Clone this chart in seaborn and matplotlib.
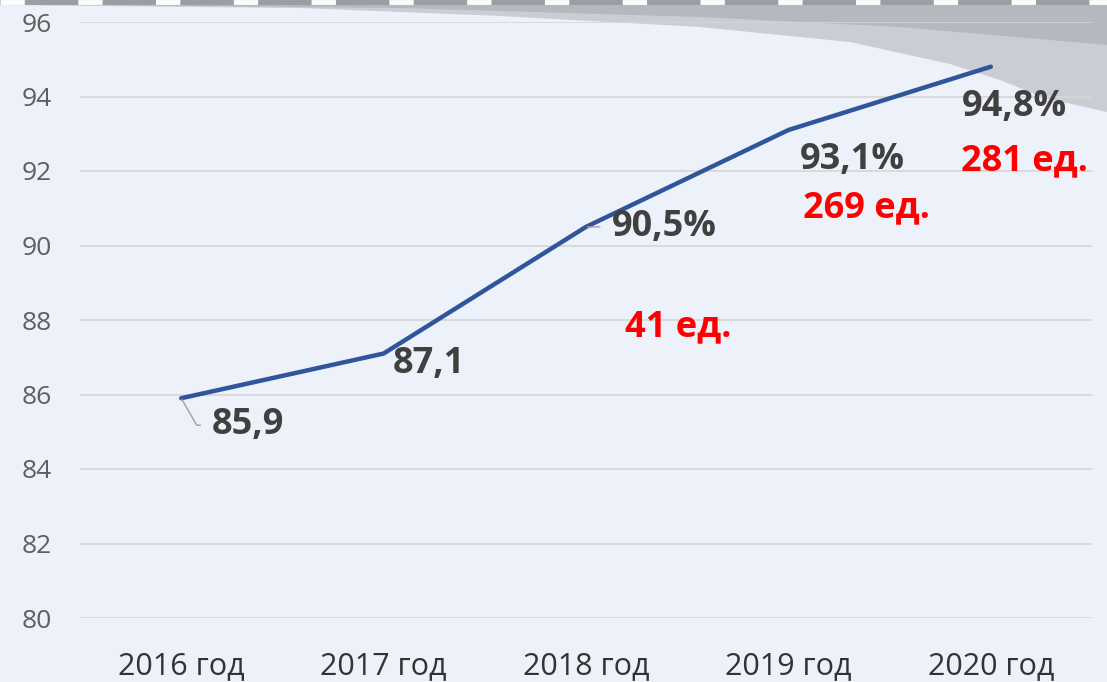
import numpy as np
import pandas as pd
import seaborn as sns
from matplotlib import pyplot as plt
from matplotlib.patches import Polygon
from matplotlib.lines import Line2D

years = ["2016 год", "2017 год", "2018 год", "2019 год", "2020 год"]
share = [85.9, 87.1, 90.5, 93.1, 94.8]
share_labels = ["85,9", "87,1", "90,5%", "93,1%", "94,8%"]
units_labels = [None, None, "41 ед.", "269 ед.", "281 ед."]

# label offsets from the point, in pixels (x right, y up)
share_offsets = [(67, -27), (45, -10), (78, 0), (64, -30), (24, -40)]
units_offsets = [None, None, (92, -100), (78, -78), (34, -95)]

if __name__ == "__main__":
    sns.set_theme(style="white")
    plt.rcParams["font.family"] = ["Open Sans", "DejaVu Sans"]

    W, H = 1107, 682
    fig = plt.figure(figsize=(W / 100, H / 100), dpi=100, facecolor="#EDF1F9")

    # grey swoosh at the top right (background decoration)
    def fpt(x, y):
        return (x / W, 1 - y / H)

    outer = [(0, 0), (1107, 0), (1107, 112), (1045, 98), (1000, 80), (950, 64),
             (850, 42), (700, 27), (500, 16), (300, 8), (0, 5)]
    inner = [(0, 0), (1107, 0), (1107, 45), (900, 27), (700, 17), (400, 8), (0, 4)]
    fig.add_artist(Polygon([fpt(*p) for p in outer], closed=True, transform=fig.transFigure,
                           facecolor="#CACDD3", edgecolor="none", zorder=-2))
    fig.add_artist(Polygon([fpt(*p) for p in inner], closed=True, transform=fig.transFigure,
                           facecolor="#B5B8BE", edgecolor="none", zorder=-2))
    fig.add_artist(Line2D([0, 1], [1 - 2 / H, 1 - 2 / H], transform=fig.transFigure,
                          color="#9A9DA3", lw=3.5, zorder=-1))
    fig.add_artist(Line2D([0, 1], [1 - 2 / H, 1 - 2 / H], transform=fig.transFigure,
                          color="white", lw=3.5, dashes=(5, 11), zorder=-1))

    ax = fig.add_axes([80 / W, 64 / H, 1012 / W, 596 / H])
    ax.patch.set_alpha(0)

    df = pd.DataFrame({"year": years, "share": share})
    sns.lineplot(data=df, x="year", y="share", color="#2F559A", linewidth=3.2,
                 sort=False, ax=ax, solid_capstyle="round")

    ax.set_xlim(-0.5, 4.5)
    ax.set_ylim(80, 96)
    ax.set_yticks(np.arange(80, 97, 2))
    ax.yaxis.grid(True, color="#D8D6D3", linewidth=1.2)
    ax.set_axisbelow(True)
    for s in ax.spines.values():
        s.set_visible(False)
    ax.tick_params(axis="y", length=0, pad=20, labelsize=19, labelcolor="#5F5F5F")
    ax.tick_params(axis="x", length=0, pad=24, labelsize=22, labelcolor="#333333")
    ax.set_xlabel("")
    ax.set_ylabel("")

    for i, (v, lab, off) in enumerate(zip(share, share_labels, share_offsets)):
        arrow = None
        if i in (0, 2):
            arrow = dict(arrowstyle="-", color="#A0A0A0", lw=1.0, relpos=(0, 0.5),
                         shrinkA=6, shrinkB=1,
                         connectionstyle="angle,angleA=0,angleB=120,rad=0" if i == 0 else "arc3")
        ax.annotate(lab, xy=(i, v), xytext=off, textcoords="offset pixels",
                    ha="center", va="center", fontsize=26, fontweight="bold",
                    color="#404040", arrowprops=arrow)

    for i, (v, lab, off) in enumerate(zip(share, units_labels, units_offsets)):
        if lab is None:
            continue
        ax.annotate(lab, xy=(i, v), xytext=off, textcoords="offset pixels",
                    ha="center", va="center", fontsize=26, fontweight="bold",
                    color="#FF0000")

    plt.savefig("out.png", dpi=100, facecolor=fig.get_facecolor())
    plt.close()
